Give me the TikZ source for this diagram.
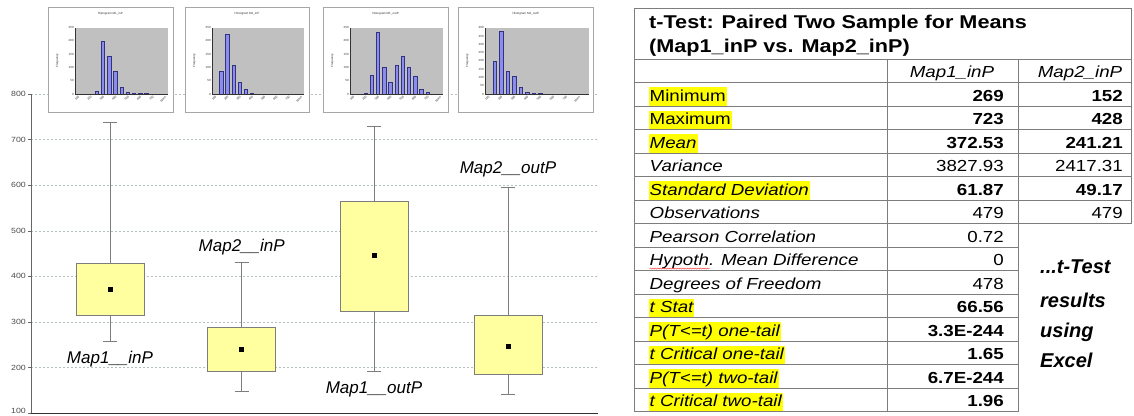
\documentclass[tikz,border=0pt]{standalone}
\usepackage{fontspec}
\setmainfont{Liberation Sans}
\newfontfamily\tabfont[FakeStretch=1.17]{Liberation Sans}
\usetikzlibrary{positioning,decorations.pathmorphing}

\definecolor{boxyellow}{RGB}{255,255,160}
\definecolor{hlyellow}{RGB}{255,255,0}
\definecolor{barblue}{RGB}{140,140,235}
\definecolor{bardark}{RGB}{50,50,130}
\definecolor{plotgray}{RGB}{192,192,192}
\definecolor{gridgray}{RGB}{180,192,192}
\definecolor{rulegray}{RGB}{125,125,125}

% small histogram: name, left x, width, ymax, tick step, bins, bars, title
\newcommand{\histo}[8]{%
  \begin{scope}[shift={(#2,6.7)}]
    \node[histframe, minimum width=#3, minimum height=105.6, anchor=north west] (#1) at (0,0) {};
    \pgfmathsetmacro{\pw}{#3-31.4}
    \pgfmathsetmacro{\bw}{\pw/#6}
    \fill[plotgray] (26.7,21) rectangle ({26.7+\pw},87.3);
    \foreach \b/\v in {#7}
      \draw[histbar] ({26.7+(\b-0.5)*\bw-1.7},87.3) rectangle ++(3.4,{-\v/#4*66.3});
    \draw[histaxis] (26.7,21) -- (26.7,87.3) -- ({26.7+\pw},87.3);
    \foreach \t in {0,#5,...,#4}
      \node[histtext, anchor=east] at (26,{87.3-\t/#4*66.3}) {\t};
    \foreach \k [count=\i] in {100,200,300,400,500,600,700,More}
      \node[histtext, rotate=45, anchor=north east] at ({26.7+(2*\i-1.5)*\bw},88.3) {\k};
    \node[histtext, rotate=90] at (9,54) {Frequency};
    \node[histtext] at ({#3/2},6.6) {#8};
  \end{scope}}

% one box with whiskers: name, x, q1, q3, low, high, mean
\newcommand{\mapbox}[7]{%
  \coordinate (#1-lo) at (#2,#5);
  \coordinate (#1-hi) at (#2,#6);
  \node[statbox, minimum height={(#4-#3)*0.456}, anchor=south] (#1) at (#2,#3) {};
  \draw[whisker] (#1.north) -- (#1-hi);
  \draw[whisker] (#1.south) -- (#1-lo);
  \draw[whisker] ([xshift=-7pt]#1-hi) -- ([xshift=7pt]#1-hi);
  \draw[whisker] ([xshift=-7pt]#1-lo) -- ([xshift=7pt]#1-lo);
  \node[meandot] (#1-mean) at (#2,#7) {};}

\begin{document}
\begin{tikzpicture}[x=1pt, y=-1pt,
    histframe/.style={draw=gray!70, fill=white, line width=0.6pt, inner sep=0pt},
    histbar/.style={fill=barblue, draw=bardark, line width=0.3pt},
    histaxis/.style={draw=black!80, line width=0.3pt},
    histtext/.style={font=\fontsize{3}{3.5}\selectfont, inner sep=0.4pt, text=black!80},
    gridline/.style={draw=gridgray, dash pattern=on 2pt off 2pt, line width=0.5pt},
    axislabel/.style={font=\tabfont\fontsize{7.5}{9}\selectfont, text=black!70, anchor=east, inner sep=1pt},
    statbox/.style={draw=rulegray, fill=boxyellow, minimum width=68, inner sep=0pt, line width=0.6pt},
    whisker/.style={draw=rulegray, line width=0.6pt},
    meandot/.style={fill=black, minimum size=5, inner sep=0pt},
    maplabel/.style={font=\itshape\fontsize{17}{20}\selectfont, inner sep=0pt},
    tabrule/.style={draw=rulegray, line width=0.9pt},
    tabtext/.style={font=\tabfont\fontsize{16}{19}\selectfont, inner ysep=1pt, inner xsep=1pt,
                    text height=13pt, text depth=3.5pt},
    lab/.style={tabtext, anchor=base west},
    val/.style={tabtext, anchor=base east},
    hl/.style={fill=hlyellow},
    ttl/.style={font=\tabfont\bfseries\fontsize{18.5}{22}\selectfont, anchor=base west, inner sep=0pt},
    note/.style={font=\bfseries\itshape\fontsize{20}{24}\selectfont, anchor=base west, inner sep=0pt}]
\useasboundingbox (0,0) rectangle (1134,415);

% box plot, y in data units
\begin{scope}[shift={(0,458.8)}, y=0.456pt]
  \foreach \v in {200,300,...,800}
    \draw[gridline] (31,\v) -- (598,\v);
  \foreach \v in {100,200,...,800}
    \draw[draw=black!60, line width=0.6pt] (28,\v) -- (31,\v);
  \foreach \v in {200,300,...,800}
    \node[axislabel] at (27,\v) {\v};
  \node[axislabel, yshift=2pt] at (27,100) {100};
  \draw[draw=black!60, line width=0.9pt] (31,800) -- (31,100);
  \draw[draw=black!80, line width=1pt] (31,100) -- (598,100);

  \mapbox{b1}{110}{315}{429}{257}{737}{372}
  \mapbox{b2}{241.7}{191}{288}{147}{432}{240}
  \mapbox{b3}{374}{323}{563}{191}{730}{445}
  \mapbox{b4}{508}{185}{313}{141}{596}{247}

  \node[maplabel, below=9pt of b1-lo] (l1) {Map1\_\_inP};
  \node[maplabel, above=7pt of b2-hi] (l2) {Map2\_\_inP};
  \node[maplabel, below=10pt of b3-lo] (l3) {Map1\_\_outP};
  \node[maplabel, above=10pt of b4-hi] (l4) {Map2\_\_outP};
\end{scope}

% histograms on top
\histo{h1}{48.3}{124.4}{250}{50}{15}{4/12,5/200,6/142,7/87,8/25,9/7,10/3,11/2,12/2}{Histogram M1\_inP}
\histo{h2}{185.3}{123.4}{250}{50}{15}{2/87,3/225,4/108,5/43,6/17,7/3}{Histogram M2\_inP}
\histo{h3}{323.3}{124.4}{250}{50}{15}{3/3,4/72,5/232,6/100,7/45,8/110,9/142,10/100,11/68,12/18,13/8}{Histogram M1\_outP}
\histo{h4}{458.3}{135}{400}{50}{16}{2/198,3/378,4/140,5/108,6/42,7/12,8/5,9/3}{Histogram M2\_outP}

% t-test table
\draw[tabrule] (634,8.3) rectangle (1131,59.3);
\draw[tabrule, line width=1.3pt] (634,59.3) -- (1131,59.3);
\draw[tabrule] (634,59.3) -- (634,411.5);
\draw[tabrule] (887.7,59.3) -- (887.7,411.5);
\draw[tabrule] (1018.3,59.3) -- (1018.3,411.5);
\draw[tabrule] (1131,59.3) -- (1131,223.7);
\foreach \i in {1,...,7}
  \draw[tabrule] (634,{59.3+23.48*\i}) -- (1131,{59.3+23.48*\i});
\foreach \i in {8,...,15}
  \draw[tabrule] (634,{59.3+23.48*\i}) -- (1018.3,{59.3+23.48*\i});

\node[ttl] (ttl1) at (649,28.3) {t-Test: Paired Two Sample for Means};
\node[ttl] (ttl2) at (649,52.3) {(Map1\_inP vs. Map2\_inP)};

\node[tabtext, anchor=base] (hd1) at (952,77.8) {\itshape Map1\_inP};
\node[tabtext, anchor=base] (hd2) at (1080,77.8) {\itshape Map2\_inP};

\node[lab, hl] (r1) at (648.5,101.3) {Minimum};
\node[val] (r1a) at (1005,101.3) {\bfseries 269};
\node[val] (r1b) at (1124,101.3) {\bfseries 152};
\node[lab, hl] (r2) at (648.5,124.8) {Maximum};
\node[val] (r2a) at (1005,124.8) {\bfseries 723};
\node[val] (r2b) at (1124,124.8) {\bfseries 428};
\node[lab, hl] (r3) at (648.5,148.2) {\itshape Mean};
\node[val] (r3a) at (1005,148.2) {\bfseries 372.53};
\node[val] (r3b) at (1124,148.2) {\bfseries 241.21};
\node[lab] (r4) at (648.5,171.7) {\itshape Variance};
\node[val] (r4a) at (1005,171.7) {3827.93};
\node[val] (r4b) at (1124,171.7) {2417.31};
\node[lab, hl] (r5) at (648.5,195.2) {\itshape Standard Deviation};
\node[val] (r5a) at (1005,195.2) {\bfseries 61.87};
\node[val] (r5b) at (1124,195.2) {\bfseries 49.17};
\node[lab] (r6) at (648.5,218.7) {\itshape Observations};
\node[val] (r6a) at (1005,218.7) {479};
\node[val] (r6b) at (1124,218.7) {479};
\node[lab] (r7) at (648.5,242.2) {\itshape Pearson Correlation};
\node[val] (r7a) at (1005,242.2) {0.72};
\node[lab] (r8) at (648.5,265.6) {\itshape Hypoth. Mean Difference};
\node[val] (r8a) at (1005,265.6) {0};
\node[lab] (r9) at (648.5,289.1) {\itshape Degrees of Freedom};
\node[val] (r9a) at (1005,289.1) {478};
\node[lab, hl] (r10) at (648.5,312.6) {\itshape t Stat};
\node[val] (r10a) at (1005,312.6) {\bfseries 66.56};
\node[lab, hl] (r11) at (648.5,336.1) {\itshape P(T<=t) one-tail};
\node[val] (r11a) at (1005,336.1) {\bfseries 3.3E-244};
\node[lab, hl] (r12) at (648.5,359.6) {\itshape t Critical one-tail};
\node[val] (r12a) at (1005,359.6) {\bfseries 1.65};
\node[lab, hl] (r13) at (648.5,383.0) {\itshape P(T<=t) two-tail};
\node[val] (r13a) at (1005,383.0) {\bfseries 6.7E-244};
\node[lab, hl] (r14) at (648.5,406.5) {\itshape t Critical two-tail};
\node[val] (r14a) at (1005,406.5) {\bfseries 1.96};

% spell-check squiggle
\draw[red!80, line width=0.4pt, decorate, decoration={snake, amplitude=0.6pt, segment length=2.5pt}]
  ([xshift=1pt, yshift=-3pt]r8.base west) -- ++(60,0);

% handwritten note
\node[note] (n1) at (1040,273) {...t-Test};
\node[note] (n2) at (1040,307) {results};
\node[note] (n3) at (1040,337) {using};
\node[note] (n4) at (1040,367) {Excel};
\end{tikzpicture}
\end{document}
